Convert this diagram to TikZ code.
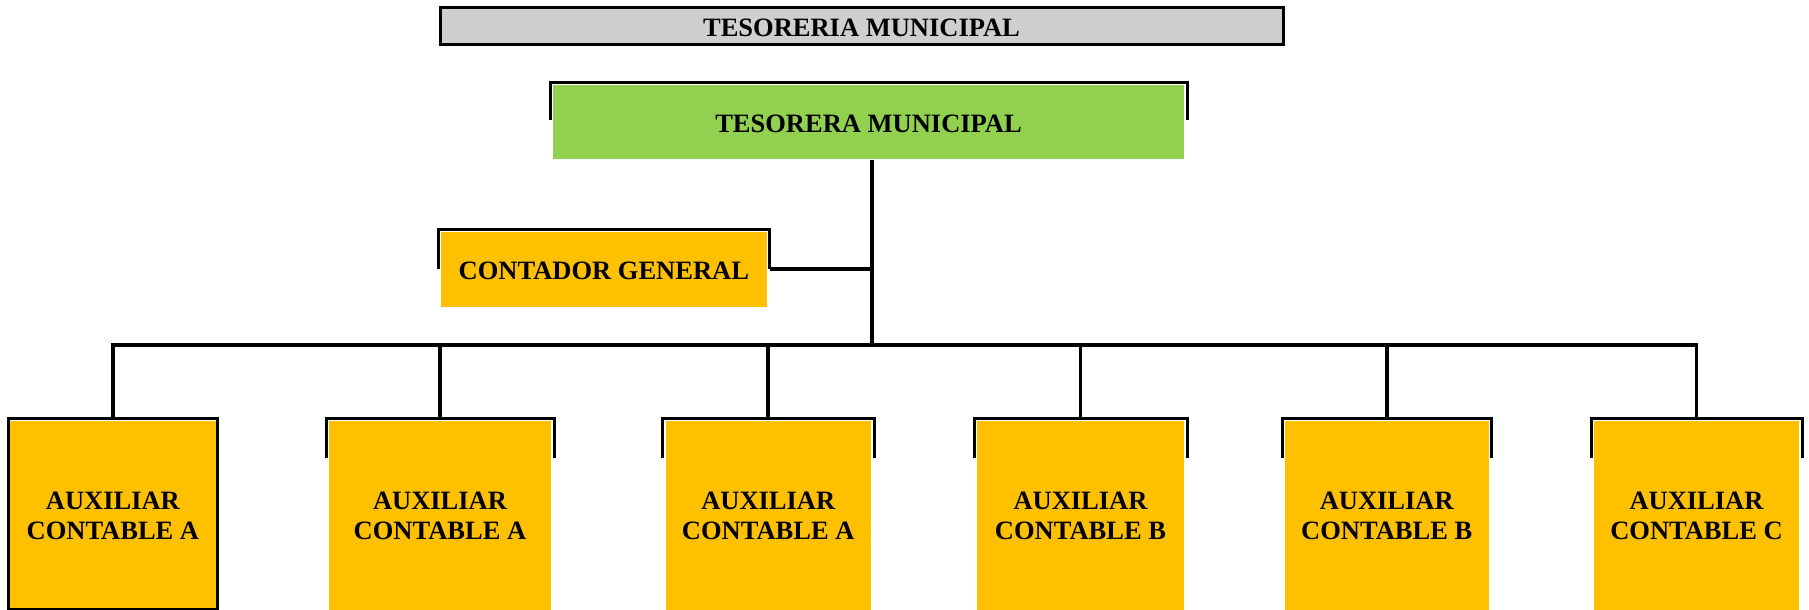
\documentclass[tikz,border=0pt]{standalone}
\usepackage{fontspec}
\setmainfont{Liberation Serif}
\usetikzlibrary{calc}
\definecolor{graybox}{HTML}{D0CECE}
\definecolor{greenbox}{HTML}{92D050}
\definecolor{orangebox}{HTML}{FFC000}
\newcommand\pframe[2]{\draw[frame] ([shift={(-1.5pt,{-#2})}]#1.north west) |- ([yshift=1pt]#1.north) -| ([shift={(1.5pt,{-#2})}]#1.north east);}
\newcommand\lowtext[1]{\raisebox{-2pt}[\height][\depth]{#1}}
\begin{document}
\begin{tikzpicture}[x=1pt,y=-1pt,
  frame/.style={draw=black,line width=3pt},
  conn/.style={draw=black,line width=3.8pt},
  lbl/.style={font=\bfseries\fontsize{26.5}{30}\selectfont,align=center,inner sep=0pt,line width=3pt},
  aux/.style={lbl,fill=orangebox,minimum height=189pt}]
\useasboundingbox (0,0) rectangle (1809,610);
\node[lbl,draw,fill=graybox,minimum width=843pt,minimum height=37.5pt] (tit) at (861.5,26.25) {\lowtext{TESORERIA MUNICIPAL}};
\node[lbl,fill=greenbox,minimum width=631pt,minimum height=73.7pt] (tm) at (868.5,121.85) {\lowtext{TESORERA MUNICIPAL}};
\node[lbl,fill=orangebox,minimum width=325.7pt,minimum height=74.7pt] (cg) at (603.85,269.35) {\lowtext{CONTADOR GENERAL}};
\node[aux,minimum width=206pt] (a1) at (112.9,515.5) {AUXILIAR\\CONTABLE A};
\node[aux,minimum width=222pt] (a2) at (440,515.5) {AUXILIAR\\CONTABLE A};
\node[aux,minimum width=205.5pt] (a3) at (768.25,515.5) {AUXILIAR\\CONTABLE A};
\node[aux,minimum width=207pt] (a4) at (1080.5,515.5) {AUXILIAR\\CONTABLE B};
\node[aux,minimum width=203.5pt] (a5) at (1386.75,515.5) {AUXILIAR\\CONTABLE B};
\node[aux,minimum width=205pt] (a6) at (1696.5,515.5) {AUXILIAR\\CONTABLE C};
\draw[frame] ([yshift=1pt]a1.north west) rectangle ([yshift=2.5pt]a1.south east);
\pframe{tm}{36pt}
\pframe{cg}{38.5pt}
\foreach \n in {a2,a3,a4,a5,a6} {\pframe{\n}{38pt}}
\coordinate (bus) at (872,345);
\draw[conn] (bus |- tm.south) -- (bus);
\draw[conn] ([xshift=1.5pt]cg.east) -- (cg.east -| bus);
\draw[conn] (a1.north |- bus) -- (a6.north |- bus);
\foreach \n in {a1,a2,a3,a4,a5,a6} {\draw[conn] ([yshift=1pt]\n.north) -- ([yshift=1.9pt]\n.north |- bus);}
\end{tikzpicture}
\end{document}
